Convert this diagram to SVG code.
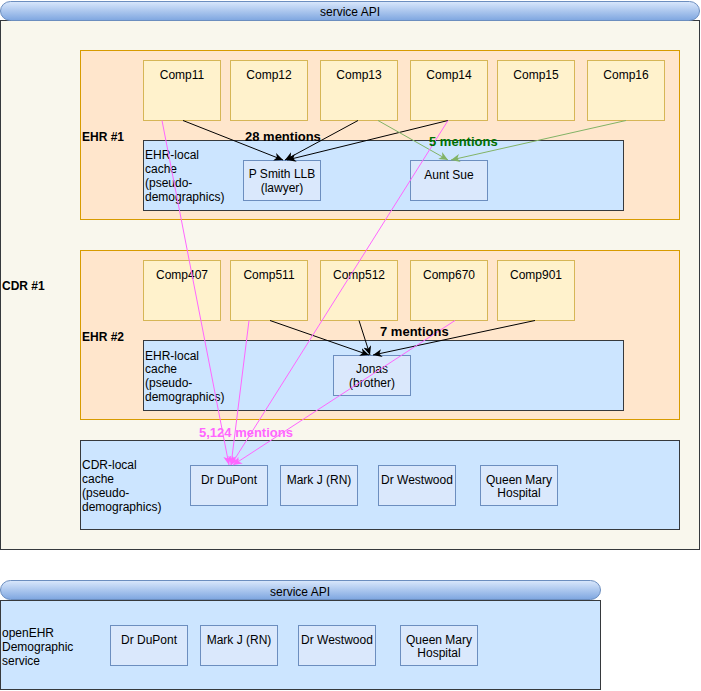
<svg xmlns="http://www.w3.org/2000/svg" width="701" height="691" viewBox="0 0 701 691">
  <defs>
    <linearGradient id="apiGrad" x1="0" y1="0" x2="0" y2="1">
      <stop offset="0" stop-color="#dae8fc"/>
      <stop offset="1" stop-color="#7ea6e0"/>
    </linearGradient>
    <marker id="arrBlack" viewBox="0 0 10 8" refX="9" refY="4" markerWidth="10" markerHeight="8" markerUnits="userSpaceOnUse" orient="auto">
      <path d="M0,0 L9,4 L0,8 L2.5,4 z" fill="#000"/>
    </marker>
    <marker id="arrGreen" viewBox="0 0 10 8" refX="9" refY="4" markerWidth="10" markerHeight="8" markerUnits="userSpaceOnUse" orient="auto">
      <path d="M0,0 L9,4 L0,8 L2.5,4 z" fill="#82b366"/>
    </marker>
    <marker id="arrPink" viewBox="0 0 10 8" refX="9" refY="4" markerWidth="10" markerHeight="8" markerUnits="userSpaceOnUse" orient="auto">
      <path d="M0,0 L9,4 L0,8 L2.5,4 z" fill="#ff66ff"/>
    </marker>
  </defs>
  <style>
    text { font-family: "Liberation Sans", Arial, sans-serif; font-size: 12px; fill: #000; }
    .bold { font-weight: bold; }
    .lbl { font-weight: bold; font-size: 13px; }
    .mid { text-anchor: middle; }
    .api { fill: url(#apiGrad); stroke: #6c8ebf; stroke-width: 1; }
    .cdr { fill: #f9f7ed; stroke: #36393d; stroke-width: 1; }
    .ehr { fill: #ffe6cc; stroke: #d79b00; stroke-width: 1; }
    .comp { fill: #fff2cc; stroke: #d6b656; stroke-width: 1; }
    .cache { fill: #cce5ff; stroke: #36393d; stroke-width: 1; }
    .party { fill: #dae8fc; stroke: #6c8ebf; stroke-width: 1; }
    .e-black { stroke: #000; stroke-width: 1; fill: none; marker-end: url(#arrBlack); }
    .e-green { stroke: #82b366; stroke-width: 1; fill: none; marker-end: url(#arrGreen); }
    .e-pink { stroke: #ff66ff; stroke-width: 1; fill: none; marker-end: url(#arrPink); }
  </style>

  <!-- CDR #1 container -->
  <g id="cdr1">
    <rect class="cdr" x="0.5" y="20.5" width="699" height="529"/>
    <text class="bold" x="2" y="290">CDR #1</text>
  </g>
  <g id="cdr1-api">
    <rect class="api" x="0.5" y="1.5" width="699" height="19" rx="10" ry="10"/>
    <text class="mid" x="350" y="16">service API</text>
  </g>

  <!-- EHR #1 -->
  <g id="ehr1">
    <rect class="ehr" x="80.5" y="50.5" width="599" height="169"/>
    <text class="bold" x="82" y="141">EHR #1</text>
  </g>
  <g id="comp11"><rect class="comp" x="143.5" y="60.5" width="77" height="60"/><text class="mid" x="182" y="79">Comp11</text></g>
  <g id="comp12"><rect class="comp" x="230.5" y="60.5" width="77" height="60"/><text class="mid" x="269" y="79">Comp12</text></g>
  <g id="comp13"><rect class="comp" x="320.5" y="60.5" width="77" height="60"/><text class="mid" x="359" y="79">Comp13</text></g>
  <g id="comp14"><rect class="comp" x="410.5" y="60.5" width="77" height="60"/><text class="mid" x="449" y="79">Comp14</text></g>
  <g id="comp15"><rect class="comp" x="497.5" y="60.5" width="77" height="60"/><text class="mid" x="536" y="79">Comp15</text></g>
  <g id="comp16"><rect class="comp" x="587.5" y="60.5" width="77" height="60"/><text class="mid" x="626" y="79">Comp16</text></g>
  <g id="ehr1-cache">
    <rect class="cache" x="143.5" y="140.5" width="480" height="70"/>
    <text x="145" y="159">EHR-local</text>
    <text x="145" y="173">cache</text>
    <text x="145" y="187">(pseudo-</text>
    <text x="145" y="201">demographics)</text>
  </g>
  <g id="psmith">
    <rect class="party" x="243.5" y="160.5" width="77" height="40"/>
    <text class="mid" x="282" y="178">P Smith LLB</text>
    <text class="mid" x="282" y="192">(lawyer)</text>
  </g>
  <g id="auntsue">
    <rect class="party" x="410.5" y="160.5" width="77" height="40"/>
    <text class="mid" x="449" y="179">Aunt Sue</text>
  </g>

  <!-- EHR #2 -->
  <g id="ehr2">
    <rect class="ehr" x="80.5" y="250.5" width="599" height="169"/>
    <text class="bold" x="82" y="341">EHR #2</text>
  </g>
  <g id="comp407"><rect class="comp" x="143.5" y="260.5" width="77" height="60"/><text class="mid" x="182" y="279">Comp407</text></g>
  <g id="comp511"><rect class="comp" x="230.5" y="260.5" width="77" height="60"/><text class="mid" x="269" y="279">Comp511</text></g>
  <g id="comp512"><rect class="comp" x="320.5" y="260.5" width="77" height="60"/><text class="mid" x="359" y="279">Comp512</text></g>
  <g id="comp670"><rect class="comp" x="410.5" y="260.5" width="77" height="60"/><text class="mid" x="449" y="279">Comp670</text></g>
  <g id="comp901"><rect class="comp" x="497.5" y="260.5" width="77" height="60"/><text class="mid" x="536" y="279">Comp901</text></g>
  <g id="ehr2-cache">
    <rect class="cache" x="143.5" y="340.5" width="480" height="70"/>
    <text x="145" y="360">EHR-local</text>
    <text x="145" y="373">cache</text>
    <text x="145" y="387">(pseudo-</text>
    <text x="145" y="401">demographics)</text>
  </g>
  <g id="jonas">
    <rect class="party" x="333.5" y="355.5" width="77" height="40"/>
    <text class="mid" x="372" y="373">Jonas</text>
    <text class="mid" x="372" y="387">(brother)</text>
  </g>

  <!-- CDR-local cache -->
  <g id="cdr-cache">
    <rect class="cache" x="80.5" y="440.5" width="599" height="89"/>
    <text x="82" y="469">CDR-local</text>
    <text x="82" y="483">cache</text>
    <text x="82" y="497">(pseudo-</text>
    <text x="82" y="511">demographics)</text>
  </g>
  <g id="cdr-dupont"><rect class="party" x="190.5" y="465.5" width="77" height="40"/><text class="mid" x="229" y="484">Dr DuPont</text></g>
  <g id="cdr-markj"><rect class="party" x="280.5" y="465.5" width="77" height="40"/><text class="mid" x="319" y="484">Mark J (RN)</text></g>
  <g id="cdr-westwood"><rect class="party" x="378.5" y="465.5" width="77" height="40"/><text class="mid" x="417" y="484">Dr Westwood</text></g>
  <g id="cdr-qmh">
    <rect class="party" x="480.5" y="465.5" width="77" height="40"/>
    <text class="mid" x="519" y="484">Queen Mary</text>
    <text class="mid" x="519" y="497">Hospital</text>
  </g>

  <!-- openEHR Demographic service -->
  <g id="demog">
    <rect class="cache" x="0.5" y="600.5" width="600" height="89"/>
    <text x="2" y="637">openEHR</text>
    <text x="2" y="651">Demographic</text>
    <text x="2" y="665">service</text>
  </g>
  <g id="demog-api">
    <rect class="api" x="0.5" y="580.5" width="600" height="19" rx="10" ry="10"/>
    <text class="mid" x="300" y="596">service API</text>
  </g>
  <g id="demog-dupont"><rect class="party" x="110.5" y="625.5" width="77" height="40"/><text class="mid" x="149" y="644">Dr DuPont</text></g>
  <g id="demog-markj"><rect class="party" x="200.5" y="625.5" width="77" height="40"/><text class="mid" x="239" y="644">Mark J (RN)</text></g>
  <g id="demog-westwood"><rect class="party" x="298.5" y="625.5" width="77" height="40"/><text class="mid" x="337" y="644">Dr Westwood</text></g>
  <g id="demog-qmh">
    <rect class="party" x="400.5" y="625.5" width="77" height="40"/>
    <text class="mid" x="439" y="644">Queen Mary</text>
    <text class="mid" x="439" y="657">Hospital</text>
  </g>

  <!-- connectors -->
  <g id="connectors">
    <path class="e-black" d="M183,120.5 L283,160"/>
    <path class="e-black" d="M358,120.5 L285,160"/>
    <path class="e-black" d="M448,120.5 L287,160"/>
    <path class="e-green" d="M378,120.5 L448,160"/>
    <path class="e-green" d="M626,120.5 L451,160"/>
    <path class="e-black" d="M270,320.5 L369,355"/>
    <path class="e-black" d="M359,320.5 L370,355"/>
    <path class="e-black" d="M535,320.5 L373,355"/>
    <path class="e-pink" d="M162,120.5 L229,465"/>
    <path class="e-pink" d="M448,120.5 L231,465"/>
    <path class="e-pink" d="M249,320.5 L231,465"/>
    <path class="e-pink" d="M455,320.5 L233,465"/>
    <text class="lbl" x="245" y="141">28 mentions</text>
    <text class="lbl" x="429" y="146" style="fill:#007000">5 mentions</text>
    <text class="lbl" x="380" y="336">7 mentions</text>
    <text class="lbl" x="199" y="437" style="fill:#ff66ff">5,124 mentions</text>
  </g>
</svg>
